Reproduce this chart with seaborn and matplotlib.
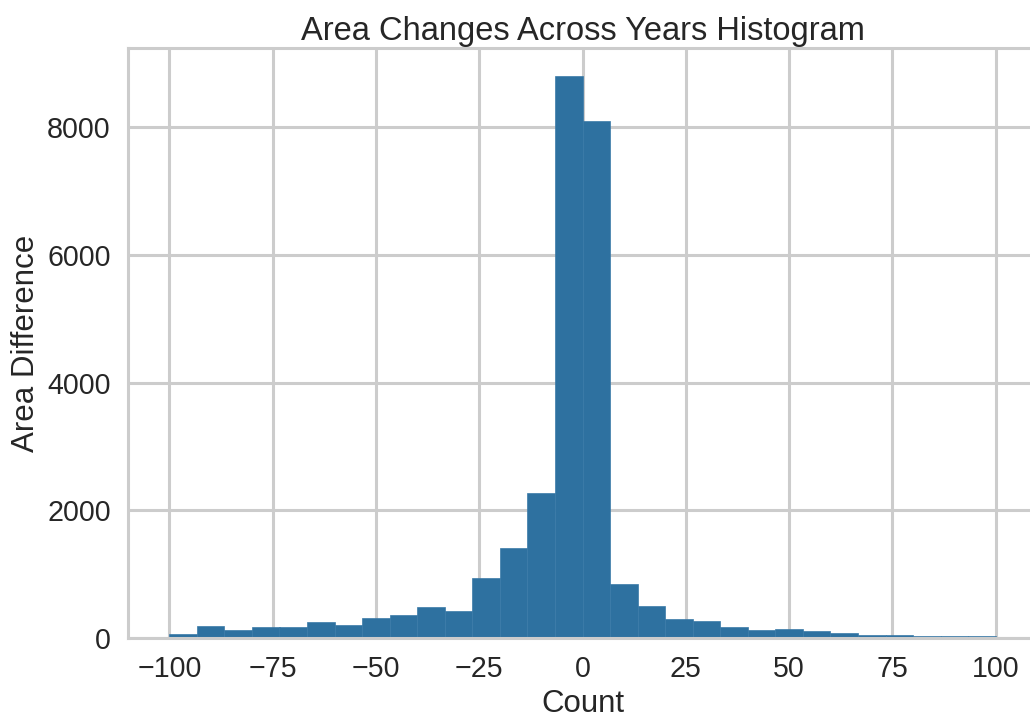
import matplotlib
matplotlib.use("Agg")
import matplotlib.pyplot as plt
import numpy as np
import pandas as pd
import seaborn as sns

# Bin edges: 30 equal bins from -100 to 100
bin_edges = np.linspace(-100, 100, 31)
bin_centers = (bin_edges[:-1] + bin_edges[1:]) / 2
# Counts
counts = [60, 195, 120, 165, 175, 255, 205, 320, 360, 490,
          430, 935, 1410, 2270, 8800, 8100, 850, 500, 300, 265,
          165, 130, 140, 105, 85, 45, 40, 25, 25, 35]

df = pd.DataFrame({"center": bin_centers, "count": counts})

sns.set_theme(style="whitegrid", context="talk", font_scale=1.25,
              rc={"grid.linewidth": 2.2, "axes.linewidth": 2.2})
plt.rcParams["font.family"] = ["Liberation Sans", "DejaVu Sans"]

fig = plt.figure(figsize=(10.3, 7.2), dpi=100)
ax = fig.add_axes([128 / 1030, 1 - 638 / 720, (1037 - 128) / 1030, (638 - 48) / 720])

sns.histplot(data=df, x="center", weights="count", bins=list(bin_edges),
             color="#2e71a0", alpha=1.0, edgecolor="#3a7aa8", linewidth=0.5, ax=ax)

ax.set_title("Area Changes Across Years Histogram", fontsize=23.5)
ax.set_xlabel("Count")
ax.set_ylabel("Area Difference")
ax.set_xticks([-100, -75, -50, -25, 0, 25, 50, 75, 100])
ax.set_yticks([0, 2000, 4000, 6000, 8000])

fig.savefig("out.png", dpi=100)
